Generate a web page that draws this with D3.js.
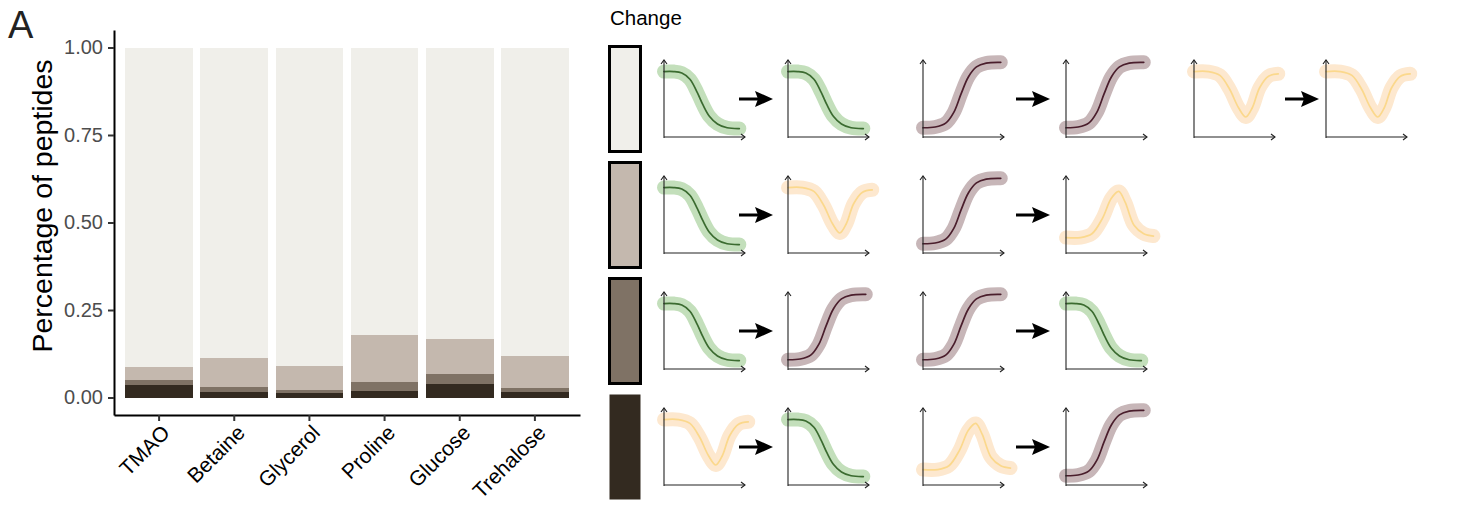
<!DOCTYPE html>
<html><head><meta charset="utf-8">
<script src="https://cdn.jsdelivr.net/npm/d3@7"></script>
<style>body{margin:0;background:#fff} svg{display:block}</style>
</head><body>
<svg id="chart" width="1480" height="506"></svg>
<script>
// ---------------- DATA ----------------
const categories = ["TMAO","Betaine","Glycerol","Proline","Glucose","Trehalose"];
// stacked proportions, bottom to top
const changeDark  = [0.036,0.016,0.013,0.019,0.040,0.017];
const changeMid   = [0.014,0.015,0.009,0.024,0.026,0.009];
const changeLight = [0.038,0.082,0.068,0.137,0.102,0.094];
const noChange    = [0.912,0.887,0.910,0.820,0.832,0.880];
const yTicks = [0,0.25,0.5,0.75,1];
const yTickLabels = ["0.00","0.25","0.50","0.75","1.00"];
const seriesKeys = ["dark","mid","light","none"];
const seriesColors = ["#332a20","#7f7265","#c4b8ae","#f0efea"];

// legend: rows top->bottom, swatch colour key and transition pairs
const legendKeys = ["none","light","mid","dark"];
const legendPairs = [
  [["down","down"],["up","up"],["dip","dip"]],
  [["down","dip"],["up","peak"]],
  [["down","up"],["up","down"]],
  [["dip","down"],["peak","up"]]
];
// schematic curve shapes (relative x, relative y)
const shapeDown = [[0,0.85],[0.12,0.85],[0.22,0.83],[0.32,0.75],[0.41,0.58],[0.48,0.42],[0.56,0.27],[0.66,0.17],[0.78,0.12],[0.93,0.11]];
const shapeUp   = [[0,0.12],[0.15,0.13],[0.28,0.18],[0.38,0.32],[0.47,0.56],[0.56,0.78],[0.66,0.91],[0.78,0.96],[0.96,0.97]];
const shapeDip  = [[0,0.85],[0.18,0.85],[0.32,0.8],[0.44,0.62],[0.55,0.38],[0.64,0.26],[0.72,0.38],[0.81,0.64],[0.92,0.79],[1.04,0.82]];
const shapePeak = [[0,0.2],[0.18,0.2],[0.32,0.25],[0.45,0.45],[0.56,0.71],[0.65,0.8],[0.73,0.66],[0.84,0.36],[0.96,0.25],[1.08,0.22]];

// ---------------- STYLE / LAYOUT ----------------
const font = "'Liberation Sans', Arial, Helvetica, sans-serif";
const shapes = {down:shapeDown, up:shapeUp, dip:shapeDip, peak:shapePeak};
const shapeStyle = {
  down:{halo:"#c3dfbb", line:"#3b6b30"},
  up:{halo:"#c7b6b8", line:"#4a1e2c"},
  dip:{halo:"#fde8cf", line:"#fbd88c"},
  peak:{halo:"#fde8cf", line:"#fbd88c"}
};
const svg = d3.select("#chart");

// ---------------- MAIN CHART ----------------
const x = d3.scaleBand().domain(categories).range([114,580]).paddingInner(0.1).paddingOuter(0.15);
const y = d3.scaleLinear().domain([-0.05,1.05]).range([415,30]);
const color = d3.scaleOrdinal().domain(seriesKeys).range(seriesColors);

const rows = categories.map((c,i)=>({cat:c, dark:changeDark[i], mid:changeMid[i], light:changeLight[i], none:noChange[i]}));
const stacked = d3.stack().keys(seriesKeys)(rows);

svg.append("g").selectAll("g").data(stacked).join("g")
  .attr("fill", d=>color(d.key))
  .selectAll("rect").data(d=>d).join("rect")
  .attr("shape-rendering","crispEdges")
  .attr("x", d=>x(d.data.cat)).attr("width", x.bandwidth())
  .attr("y", d=>y(d[1])).attr("height", d=>y(d[0])-y(d[1]));

const gy = svg.append("g").attr("transform","translate(114,0)")
  .call(d3.axisLeft(y).tickValues(yTicks).tickFormat((d,i)=>yTickLabels[i]).tickSize(6).tickSizeOuter(0).tickPadding(5));
gy.select(".domain").attr("stroke","#000").attr("stroke-width",2);
gy.selectAll(".tick line").attr("stroke","#333").attr("stroke-width",2);
gy.selectAll(".tick text").attr("fill","#4d4d4d").style("font-size","20px").style("font-family",font);

const gx = svg.append("g").attr("transform","translate(0,415)")
  .call(d3.axisBottom(x).tickSize(6).tickSizeOuter(0));
gx.select(".domain").attr("stroke","#000").attr("stroke-width",2);
gx.selectAll(".tick line").attr("stroke","#333").attr("stroke-width",2);
gx.selectAll(".tick text")
  .attr("y",0).attr("dy",0)
  .attr("text-anchor","end")
  .attr("transform","translate(12,19) rotate(-45)")
  .attr("fill","#000").style("font-size","21px").style("font-family",font);

svg.append("text").attr("transform","translate(52,206) rotate(-90)")
  .attr("text-anchor","middle").style("font-size","28.5px").style("font-family",font)
  .attr("fill","#000").text("Percentage of peptides");

svg.append("text").attr("x",8).attr("y",38).style("font-size","38px").style("font-family",font)
  .attr("fill","#222").text("A");

// ---------------- LEGEND ----------------
svg.append("text").attr("x",610).attr("y",25).style("font-size","20.5px").style("font-family",font)
  .attr("fill","#000").text("Change");

const rowCenters = [99,215,331,447];
const colStarts = [[664,739,788],[923,1016,1066],[1194,1285,1326]]; // panel1 x, arrow x, panel2 x
const panelW = 81, panelTop = 39, panelBottom = 38;

const lg = svg.append("g");
legendKeys.forEach((k,r)=>{
  const cy = rowCenters[r];
  lg.append("rect").attr("x",609.5).attr("y",cy-52.5).attr("width",31).attr("height",105)
    .attr("fill", color(k))
    .attr("stroke", k==="dark" ? "none" : "#000").attr("stroke-width",3);
});

function miniPanel(g, x0, cy, shapeKey){
  const top = cy - panelTop, bot = cy + panelBottom;
  const sx = d3.scaleLinear().domain([0,1]).range([x0, x0+panelW]);
  const sy = d3.scaleLinear().domain([0,1]).range([bot, top]);
  const line = d3.line().x(d=>sx(d[0])).y(d=>sy(d[1])).curve(d3.curveCatmullRom.alpha(0.5));
  const pts = shapes[shapeKey], st = shapeStyle[shapeKey];
  g.append("path").attr("d", line(pts)).attr("fill","none").attr("stroke",st.halo)
    .attr("stroke-width",14).attr("stroke-linecap","round").attr("stroke-linejoin","round");
  g.append("path").attr("d", line(pts)).attr("fill","none").attr("stroke",st.line)
    .attr("stroke-width",1.7).attr("stroke-linecap","round");
  // axes
  const ax = g.append("g").attr("fill","none").attr("stroke","#222").attr("stroke-width",1.1);
  ax.append("path").attr("d", `M${x0},${bot+1}V${top}`);
  ax.append("path").attr("d", `M${x0-3},${top+4}L${x0},${top}L${x0+3},${top+4}`);
  ax.append("path").attr("d", `M${x0},${bot}H${x0+panelW}`);
  ax.append("path").attr("d", `M${x0+panelW-4},${bot-3}L${x0+panelW},${bot}L${x0+panelW-4},${bot+3}`);
}
function bigArrow(g, ax, cy){
  g.append("line").attr("x1",ax).attr("x2",ax+20).attr("y1",cy).attr("y2",cy)
    .attr("stroke","#000").attr("stroke-width",3);
  g.append("path").attr("d",`M${ax+16},${cy-8}L${ax+34},${cy}L${ax+16},${cy+8}L${ax+19},${cy}Z`).attr("fill","#000");
}
legendPairs.forEach((row,r)=>{
  const cy = rowCenters[r];
  row.forEach((pair,c)=>{
    const [p1, ar, p2] = colStarts[c];
    miniPanel(lg, p1, cy, pair[0]);
    bigArrow(lg, ar, cy);
    miniPanel(lg, p2, cy, pair[1]);
  });
});
</script>
</body></html>
